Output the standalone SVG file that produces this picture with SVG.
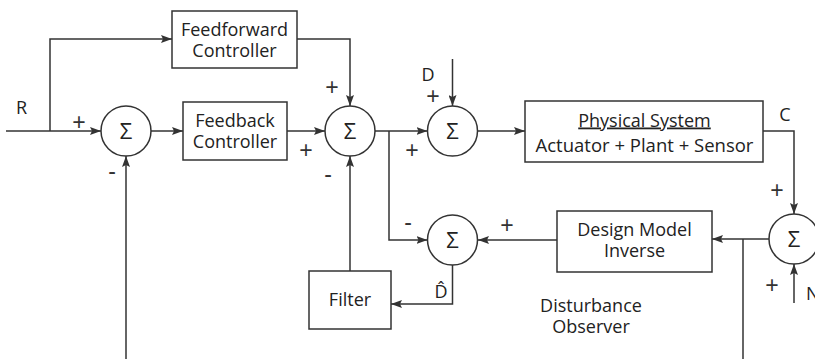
<svg xmlns="http://www.w3.org/2000/svg" width="815" height="359" viewBox="0 0 815 359">
<defs>
<marker id="arr" markerUnits="userSpaceOnUse" markerWidth="12" markerHeight="8" refX="11" refY="4" orient="auto">
<path d="M0,0 L11,4 L0,8 L2,4 z" fill="#333"/>
</marker>
<style>
.box{fill:#fff;stroke:#333;stroke-width:1.5}
.sum{fill:#fff;stroke:#333;stroke-width:1.5}
.wire{fill:none;stroke:#333;stroke-width:1.5}
.arrow{marker-end:url(#arr)}
text{font-family:"Open Sans","Liberation Sans",sans-serif;font-size:18px;fill:#222;text-anchor:middle}
.sigma{font-size:22px}
.sign{font-family:"Liberation Sans",Arial,sans-serif;font-size:23px;fill:#333}
.sig{font-size:18px}
</style>
</defs>
<rect width="815" height="359" fill="#fff"/>

<g id="connectors">
<path class="wire arrow" d="M6,131 H101"/>
<path class="wire arrow" d="M50,131 V39 H172"/>
<path class="wire arrow" d="M151,131 H183"/>
<path class="wire arrow" d="M126,359 V156"/>
<path class="wire arrow" d="M287,131 H325"/>
<path class="wire arrow" d="M297,39 H350 V106"/>
<path class="wire arrow" d="M375,131 H427.5"/>
<path class="wire arrow" d="M452.5,59 V106"/>
<path class="wire arrow" d="M478,131 H525"/>
<path class="wire arrow" d="M763,131 H794 V214"/>
<path class="wire arrow" d="M769,239 H712"/>
<path class="wire" d="M743,239 V359"/>
<path class="wire arrow" d="M794,303 V264"/>
<path class="wire arrow" d="M557,240 H478"/>
<path class="wire arrow" d="M389,131 V240 H427.5"/>
<path class="wire arrow" d="M452.5,265 V304 H391"/>
<path class="wire arrow" d="M350,271 V156"/>
</g>

<g id="feedforward">
<rect class="box" x="172" y="11" width="125" height="57"/>
<text x="234.5" y="35.5">Feedforward</text>
<text x="234.5" y="56.5">Controller</text>
</g>

<g id="sum1">
<circle class="sum" cx="126" cy="131" r="25"/>
<text class="sigma" x="126" y="139">Σ</text>
</g>

<g id="feedback">
<rect class="box" x="183" y="102" width="104" height="58"/>
<text x="235" y="126.5">Feedback</text>
<text x="235" y="147.5">Controller</text>
</g>

<g id="sum2">
<circle class="sum" cx="350" cy="131" r="25"/>
<text class="sigma" x="350" y="139">Σ</text>
</g>

<g id="sum3">
<circle class="sum" cx="452.5" cy="131" r="25"/>
<text class="sigma" x="452.5" y="139">Σ</text>
</g>

<g id="physical">
<rect class="box" x="525" y="101" width="238" height="61"/>
<text x="644.5" y="126.5" text-decoration="underline">Physical System</text>
<text x="644.5" y="152" style="font-size:18.5px">Actuator + Plant + Sensor</text>
</g>

<g id="sum4">
<circle class="sum" cx="794" cy="239" r="25"/>
<text class="sigma" x="794" y="247">Σ</text>
</g>

<g id="design-model">
<rect class="box" x="557" y="211" width="155" height="61"/>
<text x="634.5" y="236">Design Model</text>
<text x="634.5" y="257">Inverse</text>
</g>

<g id="sum5">
<circle class="sum" cx="452.5" cy="240" r="25"/>
<text class="sigma" x="452.5" y="248">Σ</text>
</g>

<g id="filter">
<rect class="box" x="309" y="271" width="82" height="58"/>
<text x="350" y="306">Filter</text>
</g>

<g id="labels">
<text class="sig" x="21.5" y="114">R</text>
<text class="sig" x="428" y="81">D</text>
<text class="sig" x="785" y="121">C</text>
<text class="sig" x="806" y="300" style="text-anchor:start">N</text>
<text class="sig" x="441" y="298">D̂</text>
<text x="591" y="312">Disturbance</text>
<text x="591" y="333">Observer</text>
<text class="sign" x="79" y="130">+</text>
<text class="sign" x="112" y="179">-</text>
<text class="sign" x="332" y="95">+</text>
<text class="sign" x="306" y="158">+</text>
<text class="sign" x="328" y="182">-</text>
<text class="sign" x="433" y="104">+</text>
<text class="sign" x="412" y="158">+</text>
<text class="sign" x="777" y="198">+</text>
<text class="sign" x="772" y="293">+</text>
<text class="sign" x="408" y="230">-</text>
<text class="sign" x="507" y="233">+</text>
</g>
</svg>
